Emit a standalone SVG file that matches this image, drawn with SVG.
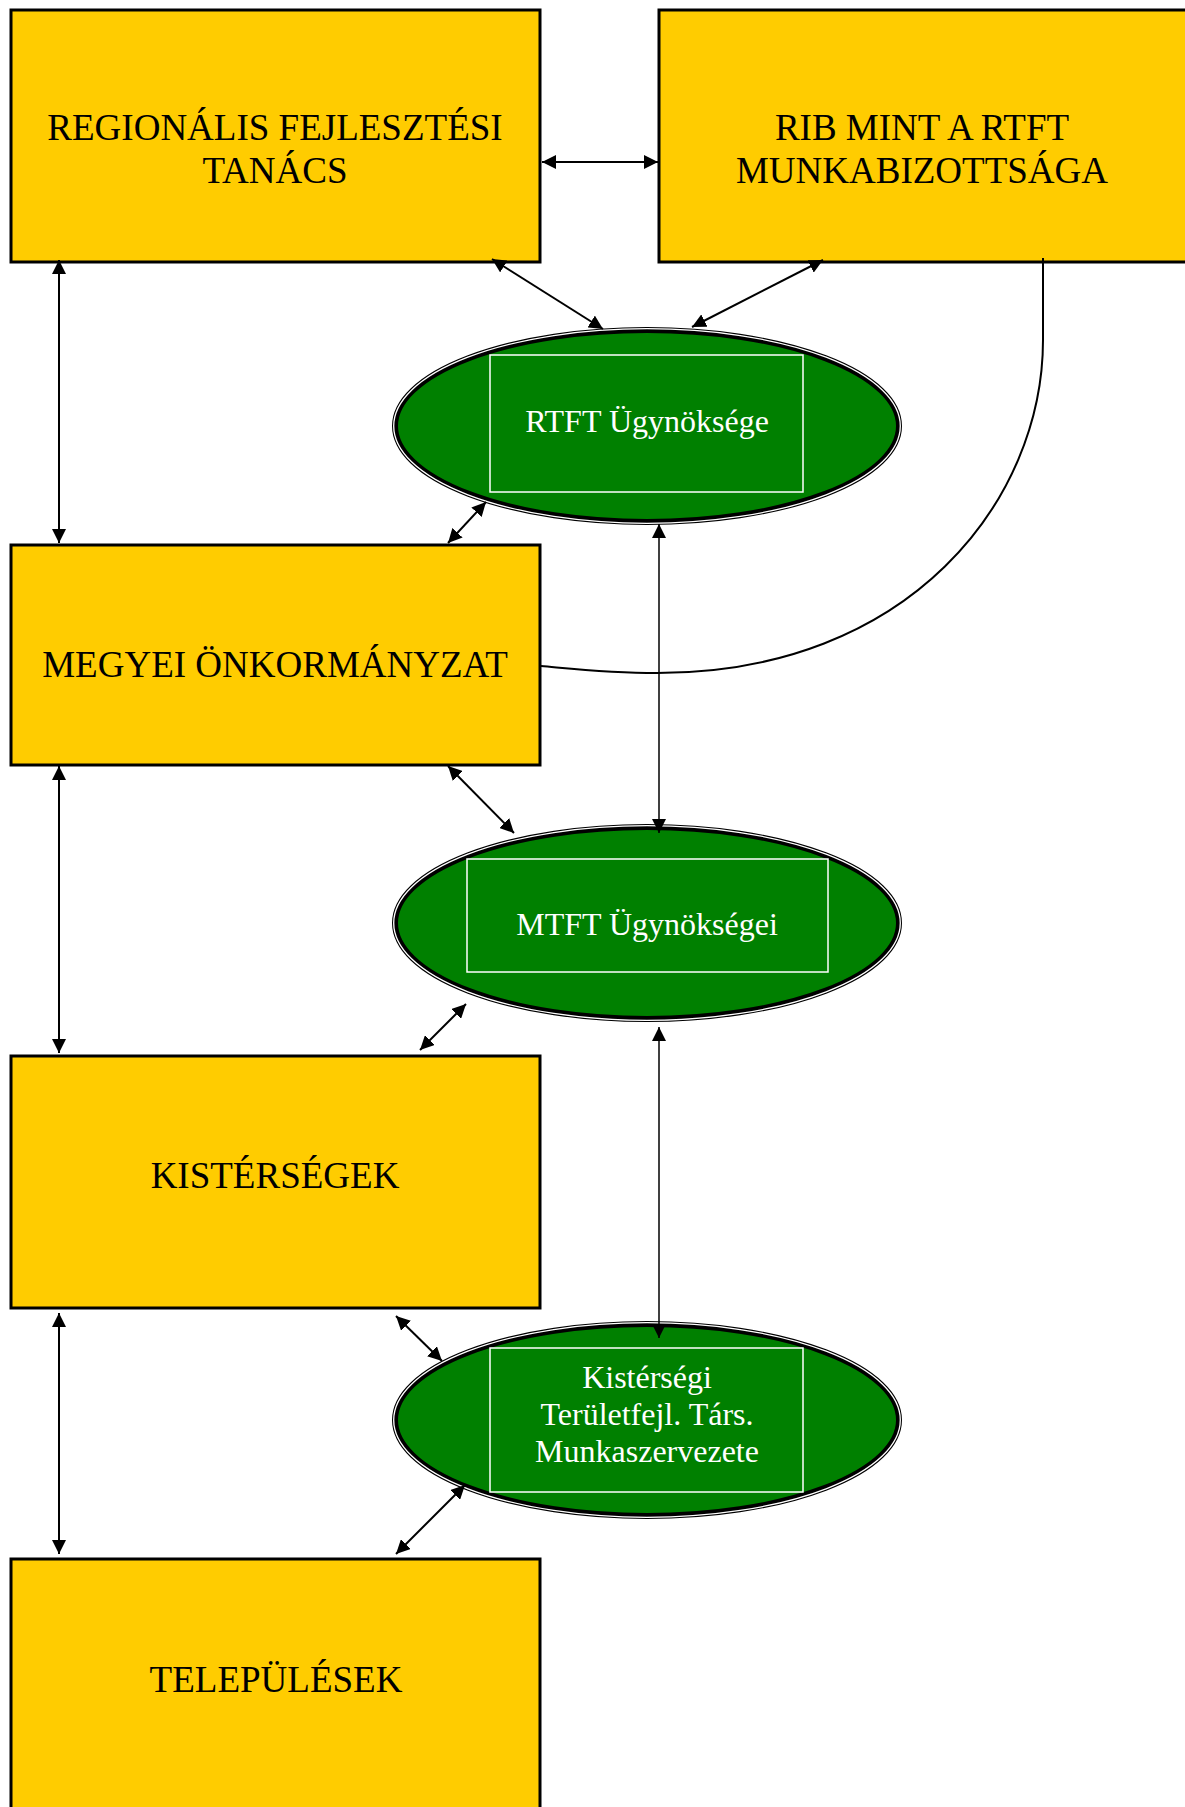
<svg xmlns="http://www.w3.org/2000/svg" width="1185" height="1807" viewBox="0 0 1185 1807">
<style>
.box{fill:#FFCC00;stroke:#000;stroke-width:3}
.bt{font-family:"Liberation Serif","Times New Roman",serif;font-size:37px;fill:#000;text-anchor:middle}
.ell{fill:#008000;stroke:#000;stroke-width:6}
.ellw{fill:none;stroke:#fff;stroke-width:1.3}
.inner{fill:none;stroke:#fff;stroke-width:1.5}
.gt{font-family:"Liberation Serif","Times New Roman",serif;font-size:32px;fill:#fff;text-anchor:middle}
.c{fill:none;stroke:#000;stroke-width:2;marker-start:url(#ah);marker-end:url(#ah)}
.cv{fill:none;stroke:#000;stroke-width:1.5;marker-start:url(#ah);marker-end:url(#ah)}
.curve{fill:none;stroke:#000;stroke-width:2}
</style>
<defs>
<marker id="ah" viewBox="0 0 14 14" markerWidth="14" markerHeight="14" refX="14" refY="7" orient="auto-start-reverse" markerUnits="userSpaceOnUse">
<path d="M0,0 L14,7 L0,14 z" fill="#000"/>
</marker>
</defs>
<rect width="1185" height="1807" fill="#fff"/>
<g id="n-rft">
<rect class="box" x="11" y="10" width="529" height="252"/>
<text class="bt" x="275" y="140">REGIONÁLIS FEJLESZTÉSI</text>
<text class="bt" x="275" y="183">TANÁCS</text>
</g>
<g id="n-rib">
<rect class="box" x="659" y="10" width="560" height="252"/>
<text class="bt" x="922" y="140">RIB MINT A RTFT</text>
<text class="bt" x="922" y="183">MUNKABIZOTTSÁGA</text>
</g>
<g id="n-megyei">
<rect class="box" x="11" y="545" width="529" height="220"/>
<text class="bt" x="275" y="677">MEGYEI ÖNKORMÁNYZAT</text>
</g>
<g id="n-kist">
<rect class="box" x="11" y="1056" width="529" height="252"/>
<text class="bt" x="275" y="1188">KISTÉRSÉGEK</text>
</g>
<g id="n-telep">
<rect class="box" x="11" y="1559" width="529" height="300"/>
<text class="bt" x="276" y="1692">TELEPÜLÉSEK</text>
</g>
<g id="n-rtft">
<ellipse class="ell" cx="647" cy="426" rx="252" ry="96"/>
<ellipse class="ellw" cx="647" cy="426" rx="253.3" ry="97.3"/>
<rect class="inner" x="490" y="355" width="313" height="137"/>
<text class="gt" x="647" y="432">RTFT Ügynöksége</text>
</g>
<g id="n-mtft">
<ellipse class="ell" cx="647" cy="923" rx="252" ry="96"/>
<ellipse class="ellw" cx="647" cy="923" rx="253.3" ry="97.3"/>
<rect class="inner" x="467" y="859" width="361" height="113"/>
<text class="gt" x="647" y="935">MTFT Ügynökségei</text>
</g>
<g id="n-ktt">
<ellipse class="ell" cx="647" cy="1420" rx="252" ry="96"/>
<ellipse class="ellw" cx="647" cy="1420" rx="253.3" ry="97.3"/>
<rect class="inner" x="490" y="1348" width="313" height="144"/>
<text class="gt" x="647" y="1388">Kistérségi</text>
<text class="gt" x="647" y="1425">Területfejl. Társ.</text>
<text class="gt" x="647" y="1462">Munkaszervezete</text>
</g>
<g id="connectors">
<path class="c" d="M542,162 L658,162"/>
<path class="c" d="M59,260 L59,543"/>
<path class="c" d="M492,259 L603,329"/>
<path class="c" d="M823,260 L692,327"/>
<path class="curve" d="M1043,258 L1043,340 C1043,500 910,673 657,673 C610,673 575,669 541,666"/>
<path class="c" d="M486,502 L448,543"/>
<path class="cv" d="M659,524 L659,833"/>
<path class="c" d="M448,766 L514,833"/>
<path class="c" d="M59,766 L59,1053"/>
<path class="c" d="M466,1004 L420,1050"/>
<path class="cv" d="M659,1027 L659,1338"/>
<path class="c" d="M59,1313 L59,1554"/>
<path class="c" d="M396,1316 L442,1361"/>
<path class="c" d="M465,1485 L396,1554"/>
</g>
</svg>
